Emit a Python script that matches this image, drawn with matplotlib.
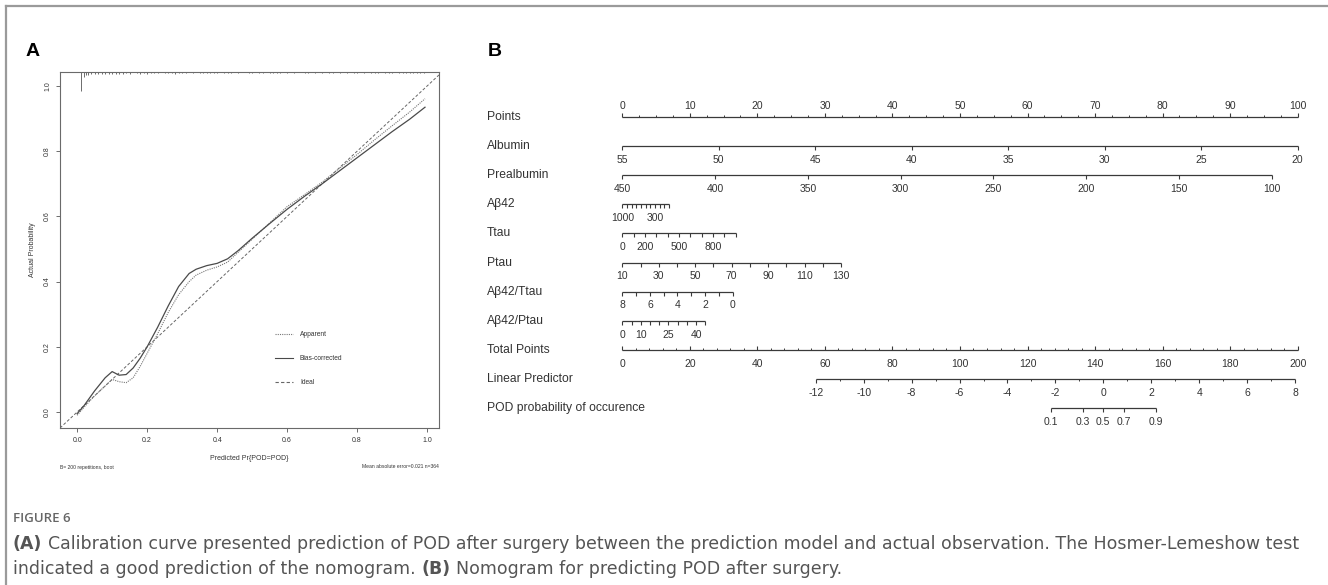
import numpy as np
import matplotlib
matplotlib.use("Agg")
import matplotlib.pyplot as plt
from matplotlib.lines import Line2D

W, H = 1328, 585
R_FONT = "Liberation Sans"
CAP_FONT = "DejaVu Sans"

# -- Panel A: calibration curve ---------------------------------------------
calib_x = [0.0, 0.02, 0.05, 0.08, 0.10, 0.12, 0.14, 0.16, 0.18, 0.20, 0.23, 0.26, 0.29, 0.32, 0.34,
           0.37, 0.40, 0.43, 0.46, 0.50, 0.55, 0.60, 0.65, 0.70, 0.75, 0.80, 0.85, 0.90, 0.95, 0.994]
bias_corrected = [-0.005, 0.02, 0.065, 0.105, 0.124, 0.113, 0.115, 0.135, 0.165, 0.20, 0.26, 0.325,
                  0.385, 0.425, 0.438, 0.449, 0.456, 0.47, 0.495, 0.533, 0.578, 0.622, 0.662, 0.70,
                  0.74, 0.78, 0.82, 0.86, 0.898, 0.935]
apparent = [-0.01, 0.015, 0.05, 0.08, 0.10, 0.093, 0.09, 0.105, 0.14, 0.18, 0.24, 0.305, 0.36, 0.40,
            0.42, 0.435, 0.445, 0.46, 0.49, 0.53, 0.58, 0.63, 0.667, 0.705, 0.748, 0.79, 0.835, 0.878,
            0.92, 0.961]

# distribution of predicted values (rug at the top)
rug_x = [0.01, 0.02, 0.025, 0.03, 0.04, 0.05, 0.06, 0.07, 0.08, 0.09, 0.10, 0.11, 0.12, 0.13, 0.14,
         0.15, 0.17, 0.18, 0.19, 0.20, 0.21, 0.22, 0.23, 0.25, 0.26, 0.27, 0.28, 0.29, 0.30, 0.31,
         0.33, 0.35, 0.36, 0.37, 0.38, 0.39, 0.40, 0.42, 0.43, 0.44, 0.46, 0.49, 0.50, 0.52, 0.53,
         0.55, 0.56, 0.57, 0.58, 0.60, 0.62, 0.65, 0.66, 0.68, 0.70, 0.72, 0.73, 0.75, 0.77, 0.79,
         0.80, 0.82, 0.84, 0.85, 0.86, 0.88, 0.89, 0.90, 0.92, 0.93, 0.94, 0.95, 0.96, 0.97, 0.98, 0.99]
rug_h = [0.058, 0.016, 0.010, 0.008, 0.006, 0.006, 0.005, 0.006, 0.005, 0.005, 0.006, 0.005, 0.005,
         0.005, 0.004, 0.005, 0.004, 0.005, 0.004, 0.005, 0.004, 0.004, 0.004, 0.004, 0.004, 0.004,
         0.005, 0.004, 0.004, 0.004, 0.004, 0.004, 0.004, 0.004, 0.004, 0.004, 0.004, 0.004, 0.004,
         0.004, 0.004, 0.004, 0.004, 0.004, 0.004, 0.004, 0.004, 0.004, 0.004, 0.004, 0.004, 0.004,
         0.004, 0.004, 0.004, 0.004, 0.004, 0.004, 0.004, 0.004, 0.004, 0.004, 0.004, 0.004, 0.004,
         0.004, 0.004, 0.004, 0.004, 0.004, 0.004, 0.004, 0.004, 0.004, 0.004, 0.004]
calib_ticks = [0.0, 0.2, 0.4, 0.6, 0.8, 1.0]

# -- Panel B: nomogram ------------------------------------------------------
points_ticks = [0, 10, 20, 30, 40, 50, 60, 70, 80, 90, 100]
points_minor = [2.5, 5, 7.5, 12.5, 15, 17.5, 22.5, 25, 27.5, 32.5, 35, 37.5, 42.5, 45, 47.5, 52.5,
                55, 57.5, 62.5, 65, 67.5, 72.5, 75, 77.5, 82.5, 85, 87.5, 92.5, 95, 97.5]

# name, tick values, labelled values, (value, points) at both ends
variables = [
    ("Albumin", [55, 50, 45, 40, 35, 30, 25, 20], [55, 50, 45, 40, 35, 30, 25, 20], (55, 0.0), (20, 100.0)),
    ("Prealbumin", [450, 400, 350, 300, 250, 200, 150, 100], [450, 400, 350, 300, 250, 200, 150, 100],
     (450, 0.0), (100, 96.15)),
    ("Aβ42", [1000, 900, 800, 700, 600, 500, 400, 300, 200, 100, 0], [1000, 300], (1000, 0.0), (0, 6.91)),
    ("Ttau", [0, 100, 200, 300, 400, 500, 600, 700, 800, 900, 1000], [0, 200, 500, 800], (0, 0.0), (1000, 16.79)),
    ("Ptau", [10, 20, 30, 40, 50, 60, 70, 80, 90, 100, 110, 120, 130], [10, 30, 50, 70, 90, 110, 130],
     (10, 0.0), (130, 32.38)),
    ("Aβ42/Ttau", [8, 7, 6, 5, 4, 3, 2, 1, 0], [8, 6, 4, 2, 0], (8, 0.0), (0, 16.34)),
    ("Aβ42/Ptau", [0, 5, 10, 15, 20, 25, 30, 35, 40, 45], [0, 10, 25, 40], (0, 0.0), (45, 12.29)),
]

total_ticks = [0, 20, 40, 60, 80, 100, 120, 140, 160, 180, 200]
total_minor = [4, 8, 12, 16, 24, 28, 32, 36, 44, 48, 52, 56, 64, 68, 72, 76, 84, 88, 92, 96, 104, 108,
               112, 116, 124, 128, 132, 136, 144, 148, 152, 156, 164, 168, 172, 176, 184, 188, 192, 196]
lp_ticks = [-12, -10, -8, -6, -4, -2, 0, 2, 4, 6, 8]
lp_minor = [-11, -9, -7, -5, -3, -1, 1, 3, 5, 7]
lp_ends = ((-12, 57.3), (8, 199.2))  # (linear predictor, total points)
prob_ticks = [0.1, 0.3, 0.5, 0.7, 0.9]

fig = plt.figure(figsize=(W / 100, H / 100), dpi=100)

# page frame
fig.add_artist(Line2D([6 / W, 1], [1 - 6 / H, 1 - 6 / H], transform=fig.transFigure, color="#9a9a9a", lw=1.6))
fig.add_artist(Line2D([6 / W, 6 / W], [0, 1 - 6 / H], transform=fig.transFigure, color="#9a9a9a", lw=1.6))

# ---------------------------------------------------------------- panel A
axA = fig.add_axes([60 / W, 1 - 428 / H, 379 / W, 356 / H])
axA.set_xlim(-0.049, 1.034)
axA.set_ylim(-0.049, 1.043)
for sp in axA.spines.values():
    sp.set_color("#6a6a6a")
    sp.set_linewidth(0.8)

axA.axline((0, 0), (1, 1), ls=(0, (3, 2)), color="#666666", lw=0.7)
axA.plot(calib_x, apparent, ls=(0, (1, 1)), color="#777777", lw=0.8)
axA.plot(calib_x, bias_corrected, color="#4a4a4a", lw=0.9)
top = axA.get_ylim()[1]
axA.vlines(rug_x, [top - h for h in rug_h], top, color="#555555", lw=0.6)

axA.set_xticks(calib_ticks)
axA.set_xticklabels([f"{t:.1f}" for t in calib_ticks])
axA.set_yticks(calib_ticks)
axA.set_yticklabels([f"{t:.1f}" for t in calib_ticks], rotation=90, va="center")
axA.tick_params(direction="out", length=3, width=0.6, color="#555555", labelsize=5,
                labelcolor="#333333", pad=3.5)
for lab in axA.get_xticklabels() + axA.get_yticklabels():
    lab.set_fontfamily(R_FONT)

axA.text((249 - 60) / 379, (428 - 458) / 356, "Predicted Pr{POD=POD}", transform=axA.transAxes,
         ha="center", va="center", fontsize=5, family=R_FONT, color="#333333")
axA.text((32 - 60) / 379, 0.5, "Actual Probability", transform=axA.transAxes, rotation=90,
         ha="center", va="center", fontsize=5, family=R_FONT, color="#333333")
axA.text(0, (428 - 467) / 356, "B= 200 repetitions, boot", transform=axA.transAxes,
         ha="left", va="center", fontsize=3.6, family=R_FONT, color="#333333")
axA.text(1, (428 - 467) / 356, "Mean absolute error=0.021 n=364", transform=axA.transAxes,
         ha="right", va="center", fontsize=3.6, family=R_FONT, color="#333333")

legend_items = [("Apparent", (0, (1, 1)), "#777777"), ("Bias-corrected", "-", "#4a4a4a"),
                ("Ideal", (0, (3, 2)), "#666666")]
for k, (lab, ls, col) in enumerate(legend_items):
    yy = (428 - (334 + 24 * k)) / 356
    axA.plot([0.567, 0.615], [yy, yy], transform=axA.transAxes, ls=ls, color=col, lw=0.8)
    axA.text(0.633, yy, lab, transform=axA.transAxes, ha="left", va="center", fontsize=4.8,
             family=R_FONT, color="#333333")

fig.text(26 / W, 1 - 52 / H, "A", fontsize=14, fontweight="bold", family=R_FONT, va="center")
fig.text(488 / W, 1 - 52 / H, "B", fontsize=14, fontweight="bold", family=R_FONT, va="center")

# ---------------------------------------------------------------- panel B
axB = fig.add_axes([460 / W, 1 - 440 / H, 868 / W, 350 / H])
axB.set_xlim(-24.03, 104.49)
axB.set_ylim(11.112, -0.940)
axB.axis("off")

NC = "#3a3a3a"
TK = 0.138   # tick length, row units
TXT = dict(family=R_FONT, color="#333333")


def draw_axis(row, tick_pts, label_pts, labels, minor_pts=(), up=False, above=False):
    lo, hi = min(tick_pts), max(tick_pts)
    axB.plot([lo, hi], [row, row], color=NC, lw=0.9, solid_capstyle="butt")
    sgn = -1 if up else 1
    axB.vlines(tick_pts, row, row + sgn * TK, color=NC, lw=0.8)
    if len(minor_pts):
        axB.vlines(minor_pts, row, row + sgn * TK * 0.5, color=NC, lw=0.7)
    off = -0.39 if above else 0.48
    for p, s in zip(label_pts, labels):
        axB.text(p, row + off, s, ha="center", va="center", fontsize=7.5, **TXT)


def fmt(v):
    return f"{v:g}"


row_names = ["Points"] + [v[0] for v in variables] + ["Total Points", "Linear Predictor",
                                                      "POD probability of occurence"]
for i, name in enumerate(row_names):
    axB.text(-20.0, i, name, ha="left", va="center", fontsize=8.7, **TXT)

# points
draw_axis(0, points_ticks, points_ticks, [fmt(t) for t in points_ticks], points_minor, up=True, above=True)

# predictors
for i, (name, ticks, labs, e0, e1) in enumerate(variables, start=1):
    xs = [e0[0], e1[0]]
    ps = [e0[1], e1[1]]
    if xs[0] > xs[1]:
        xs, ps = xs[::-1], ps[::-1]
    tp = np.interp(ticks, xs, ps)
    lp = np.interp(labs, xs, ps)
    draw_axis(i, tp, lp, [fmt(v) for v in labs])

# total points (half scale of points axis)
r = len(variables) + 1
tot_p = [t / 2 for t in total_ticks]
draw_axis(r, tot_p, tot_p, [fmt(t) for t in total_ticks], [t / 2 for t in total_minor], up=True)


def lp_to_points(v):
    tot = np.interp(v, [lp_ends[0][0], lp_ends[1][0]], [lp_ends[0][1], lp_ends[1][1]])
    return tot / 2


lp_p = lp_to_points(np.array(lp_ticks, float))
draw_axis(r + 1, lp_p, lp_p, [fmt(t) for t in lp_ticks], lp_to_points(np.array(lp_minor, float)))

pr = np.array(prob_ticks)
pr_p = lp_to_points(np.log(pr / (1 - pr)))
draw_axis(r + 2, pr_p, pr_p, [fmt(t) for t in prob_ticks])

# ---------------------------------------------------------------- caption
renderer = fig.canvas.get_renderer()
CAP = "#555555"
line1_pieces = [("(A)", "bold"), (" ", "normal"),
                ("Calibration curve presented prediction of POD after surgery between the prediction "
                 "model and actual observation. The Hosmer-Lemeshow test", "normal")]
line2_pieces = [("indicated a good prediction of the nomogram.", "normal"), (" ", "normal"),
                ("(B)", "bold"), (" ", "normal"),
                ("Nomogram for predicting POD after surgery.", "normal")]


def width_px(s, weight, size):
    t = fig.text(0, 0, s, fontsize=size, family=CAP_FONT, fontweight=weight)
    w = t.get_window_extent(renderer).width
    t.remove()
    return w


def line_width(pieces, size):
    sp = width_px("a a", "normal", size) - width_px("aa", "normal", size)
    return sum(sp if s == " " else width_px(s, w, size) for s, w in pieces)


# fit the first caption line to the reference width (x 13 -> 1297)
cap_size = 11.0 * (1284 / line_width(line1_pieces, 11.0))
space = width_px("a a", "normal", cap_size) - width_px("aa", "normal", cap_size)

fig.text(13 / W, 1 - 519 / H, "FIGURE 6", fontsize=9.5, fontweight="semibold", family="Open Sans",
         color="#666666", va="center")


def caption_line(y, pieces):
    x = 13.0
    for s, weight in pieces:
        if s == " ":
            x += space
            continue
        t = fig.text(x / W, 1 - y / H, s, fontsize=cap_size, family=CAP_FONT, fontweight=weight,
                     color=CAP, va="center")
        x += t.get_window_extent(renderer).width


caption_line(544, line1_pieces)
caption_line(569, line2_pieces)

fig.savefig("out.png", dpi=100)
